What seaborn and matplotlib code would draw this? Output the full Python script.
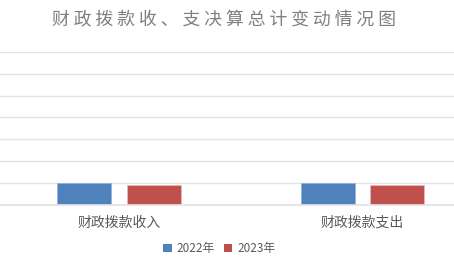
import matplotlib
matplotlib.use("Agg")
import matplotlib.pyplot as plt
import seaborn as sns
import pandas as pd
from matplotlib.patches import Patch

categories = ["财政拨款收入", "财政拨款支出"]
years = ["2022年", "2023年"]
values_2022 = [1.0, 1.0]
values_2023 = [0.91, 0.91]
colors = ["#4F81BD", "#C0504D"]
title = "财政拨款收、支决算总计变动情况图"

sns.set_theme(style="white")
plt.rcParams['font.family'] = ['Noto Sans CJK SC', 'DejaVu Sans']

df = pd.DataFrame({
    "category": categories * 2,
    "year": [years[0]] * 2 + [years[1]] * 2,
    "value": values_2022 + values_2023,
})

fig = plt.figure(figsize=(4.54, 2.72), dpi=100)
ax = fig.add_axes([0.0, 0.2463, 1.0, 0.8099 - 0.2463])

sns.barplot(data=df, x="category", y="value", hue="year", palette=colors,
            width=0.571, gap=0.223, ax=ax, legend=False, saturation=1)
for i, p in enumerate(ax.patches):
    p.set_edgecolor("#E6B9B8" if p.get_facecolor()[0] > 0.6 else "#95B3D7")
    p.set_linewidth(0.6)

ax.set_xlim(-0.489, 1.376)
ax.set_ylim(0, 7)
ax.set_yticks(range(0, 8))
ax.yaxis.grid(True, color="#E3E3E3", linewidth=1.0)
ax.set_axisbelow(True)
ax.tick_params(axis="y", left=False, labelleft=False)
ax.tick_params(axis="x", bottom=False, labelsize=10, labelcolor="#595959", pad=1.5)
ax.set_xlabel("")
ax.set_ylabel("")
for s in ["top", "left", "right"]:
    ax.spines[s].set_visible(False)
ax.spines["bottom"].set_color("#E3E3E3")

fig.text(0.493, 0.925, " ".join(title), ha="center", va="center",
         fontsize=12.8, color="#7F7F7F")

handles = [Patch(facecolor=c, edgecolor="none") for c in colors]
fig.legend(handles, years, loc="center", bbox_to_anchor=(0.483, 0.085), ncol=2,
           frameon=False, fontsize=8.5, handlelength=0.7, handleheight=0.7,
           handletextpad=0.4, columnspacing=0.8, labelcolor="#595959")

fig.savefig("out.png", dpi=100)
